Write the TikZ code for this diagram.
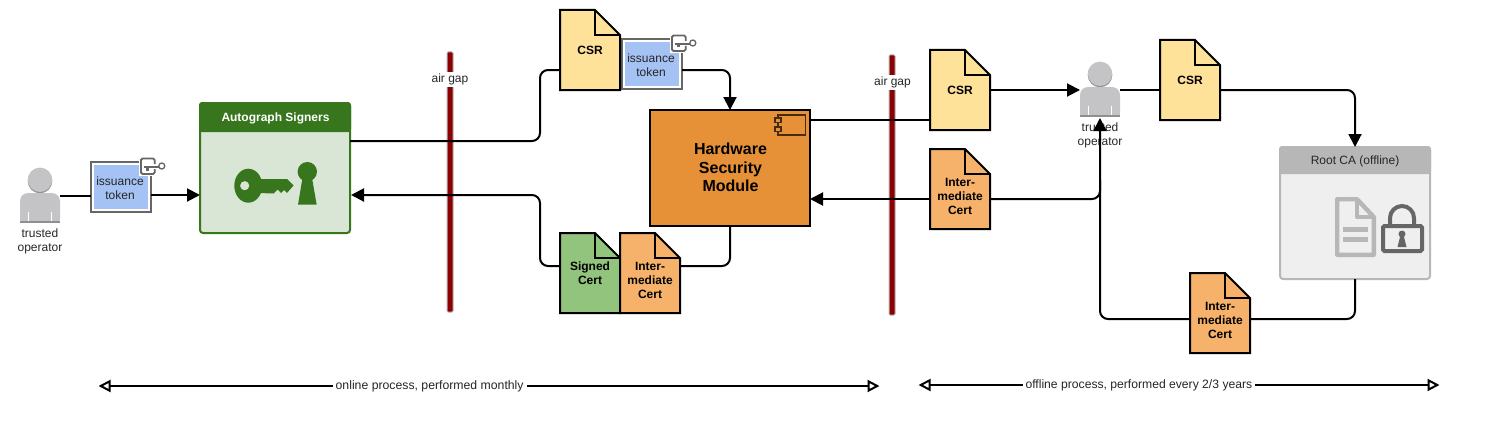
\documentclass[tikz,border=0pt]{standalone}
\usepackage{fontspec}
\setmainfont{Liberation Sans}
\usetikzlibrary{arrows.meta,calc}
\definecolor{csrc}{HTML}{FFE299}
\definecolor{intc}{HTML}{F6B26B}
\definecolor{sigc}{HTML}{93C47D}
\definecolor{hsmc}{HTML}{E69138}
\definecolor{tokc}{HTML}{A4C2F4}
\definecolor{grn}{HTML}{38761D}
\definecolor{grnl}{HTML}{D9E5D5}
\definecolor{gra}{HTML}{B7B7B7}
\definecolor{gral}{HTML}{EFEFEF}
\definecolor{grd}{HTML}{666666}
\definecolor{pers}{HTML}{C4C4C6}
\definecolor{persd}{HTML}{8F8F8F}
\definecolor{barc}{HTML}{8B0000}
\tikzset{
  conn/.style={draw=black,line width=2pt,rounded corners=8pt},
  arr/.style={conn,-{Triangle[length=13pt,width=13pt]}},
  spanline/.style={draw=black,line width=2pt,{Triangle[open,fill=white,length=12pt,width=12pt,line width=2pt]}-{Triangle[open,fill=white,length=12pt,width=12pt,line width=2pt]}},
  txt/.style={font=\fontsize{12}{14}\selectfont,align=center,inner sep=0pt,text=black!85},
  btxt/.style={font=\fontsize{12}{14}\selectfont\bfseries,align=center,inner sep=0pt},
  box/.style={rectangle,inner sep=0pt,outer sep=0pt},
  docline/.style={draw=black,line width=2pt,line join=miter},
  gapbar/.style={box,draw=gra,fill=barc,line width=1pt,minimum width=6pt,minimum height=260pt,rounded corners=1pt},
  gaplabel/.style={txt,fill=white,inner sep=1.5pt},
}
% name, cx, cy, fill, text, text y shift
\newcommand\docshape[6]{%
  \node[box,minimum width=60pt,minimum height=80pt] (#1) at (#2,#3) {};
  \draw[docline,fill=#4] (#1.north west) -- ([xshift=35pt]#1.north west) -- ([yshift=-25pt]#1.north east) -- (#1.south east) -- (#1.south west) -- cycle;
  \draw[docline] ([xshift=35pt]#1.north west) -- ([xshift=35pt,yshift=-25pt]#1.north west) -- ([yshift=-25pt]#1.north east);
  \node[btxt] (#1t) at ([yshift=#6]#1.center) {#5};
}
% name, cx, cy of token
\newcommand\tokenshape[3]{%
  \node[box,minimum width=60pt,minimum height=50pt,draw=grd,line width=2pt,fill=white] (#1) at (#2,#3) {};
  \node[box,minimum width=54pt,minimum height=44pt,fill=tokc] (#1i) at (#2,#3) {};
  \node[txt] (#1t) at ([xshift=-1pt,yshift=-1pt]#1.center) {issuance\\token};
  \fill[white] ([xshift=-12pt,yshift=6pt]#1.north east) rectangle ([xshift=5.5pt,yshift=-14pt]#1.north east);
  \draw[grd,line width=1.8pt,rounded corners=1.5pt] ([xshift=3.7pt,yshift=-2pt]#1.north east) -- ([xshift=3.7pt,yshift=3.5pt]#1.north east) -- ([xshift=-10pt,yshift=3.5pt]#1.north east) -- ([xshift=-10pt,yshift=-12pt]#1.north east) -- ([xshift=3.7pt,yshift=-12pt]#1.north east) -- ([xshift=3.7pt,yshift=-7pt]#1.north east);
  \draw[grd,line width=1.8pt] ([xshift=-7.5pt,yshift=-5pt]#1.north east) -- ([xshift=8pt,yshift=-5pt]#1.north east);
  \draw[grd,line width=1.3pt,fill=white] ([xshift=10.8pt,yshift=-4pt]#1.north east) circle[radius=3pt];
  \fill[grd] ([xshift=-5pt,yshift=-5pt]#1.north east) rectangle ([xshift=-2.5pt,yshift=-8.5pt]#1.north east);
}
% name, cx, head cy
\newcommand\person[3]{%
  \node[box,minimum width=40pt,minimum height=54pt] (#1) at (#2,#3+15) {};
  \fill[persd] (#2,#3) circle[radius=12.3pt];
  \fill[pers] (#2,#3-1.2) circle[radius=12.2pt];
  \fill[pers,rounded corners=8pt] (#2-20,#3+46) -- (#2-20,#3+12) -- (#2+20,#3+12) -- (#2+20,#3+46) -- cycle;
  \fill[white] (#2-21,#3+42) rectangle (#2+21,#3+47);
  \fill[persd] (#2-20,#3+40) rectangle (#2+20,#3+42);
  \fill[white] (#2-11.8,#3+31) rectangle (#2-11,#3+40);
  \fill[white] (#2+11,#3+31) rectangle (#2+11.8,#3+40);
  \node[txt] (#1t) at (#2,#3+60.7) {trusted\\operator};
}
\begin{document}
\begin{tikzpicture}[x=1pt,y=-1pt]
\useasboundingbox (0,0) rectangle (1490,436);
% air gaps
\node[gapbar] (gap1) at (450,182) {};
\node[gaplabel] (gap1t) at (450,79.5) {air gap};
\node[gapbar] (gap2) at (892,185) {};
\node[gaplabel] (gap2t) at (892.5,82.5) {air gap};
% persons
\person{op1}{40}{181}
\person{op2}{1100}{75}
% Autograph
\node[box,minimum width=150pt,minimum height=130pt,draw=grn,line width=2pt,fill=grnl,rounded corners=3pt] (sign) at (275,168) {};
\fill[grn,rounded corners=3pt] (199,102) -- (351,102) -- (351,132) -- (199,132) -- cycle;
\fill[grn] (199,120) rectangle (351,132);
\node[btxt,text=white] (signt) at (275.5,118.7) {Autograph Signers};
\fill[grn,even odd rule] (248.3,185.7) ellipse[x radius=14pt,y radius=17pt] (244.7,185.7) circle[radius=4.7pt];
\fill[grn] (258,179) -- (287,179) -- (293.5,185.5) -- (287,193) -- (284,190) -- (281,193) -- (277.5,189.5) -- (273.5,193.5) -- (258,193) -- cycle;
\fill[grn] (307.3,171.7) circle[radius=9.7pt];
\fill[grn] (302.5,178) -- (312,178) -- (316.7,204.7) -- (298,204.7) -- cycle;
% Root CA
\node[box,minimum width=150pt,minimum height=132pt,draw=gra,line width=2pt,fill=gral,rounded corners=3pt] (root) at (1355,213) {};
\fill[gra,rounded corners=3pt] (1279,146) -- (1431,146) -- (1431,174) -- (1279,174) -- cycle;
\fill[gra] (1279,160) rectangle (1431,174);
\node[txt] (roott) at (1355,161.7) {Root CA (offline)};
\draw[gra,line width=4.4pt,line join=round,fill=gral] (1337.2,199.2) -- (1357,199.2) -- (1373.8,217) -- (1373.8,254.8) -- (1337.2,254.8) -- cycle;
\draw[gra,line width=4.4pt,line join=round] (1357,199.2) -- (1357,217) -- (1373.8,217);
\fill[gra] (1343,227) rectangle (1368,232);
\fill[gra] (1343,237) rectangle (1368,242);
\draw[grd,line width=4pt] (1390,226) -- (1390,218) arc[start angle=180,end angle=0,radius=12pt] -- (1414,226);
\draw[grd,line width=4pt,fill=gral,rounded corners=1.5pt] (1383,226) rectangle (1422,251);
\fill[grd] (1402,234) circle[radius=3.5pt];
\fill[grd] (1400.5,235) -- (1403.5,235) -- (1406.5,247) -- (1397.5,247) -- cycle;
% HSM
\node[box,minimum width=160pt,minimum height=116pt,draw=black,line width=2pt,fill=hsmc] (hsm) at (730,168) {};
\node[btxt,font=\fontsize{16}{18.5}\selectfont\bfseries] (hsmt) at (730.5,167.5) {Hardware\\Security\\Module};
\draw[black!70!hsmc,line width=1.2pt] (778,115) rectangle (805.5,135);
\draw[black!70!hsmc,line width=1.2pt,fill=hsmc] (775,118) rectangle (781,122.5);
\draw[black!70!hsmc,line width=1.2pt,fill=hsmc] (775,127) rectangle (781,131.5);
% tokens and documents
\tokenshape{tok1}{121}{187}
\tokenshape{tok2}{652}{64}
\docshape{csr1}{590}{50}{csrc}{CSR}{0pt}
\docshape{csr2}{960}{90}{csrc}{CSR}{0pt}
\docshape{csr3}{1190}{80}{csrc}{CSR}{0pt}
\docshape{sig}{590}{273}{sigc}{Signed\\Cert}{0pt}
\docshape{int1}{650}{273}{intc}{Inter-\\mediate\\Cert}{-7pt}
\docshape{int2}{960}{189}{intc}{Inter-\\mediate\\Cert}{-7pt}
\docshape{int3}{1220}{313}{intc}{Inter-\\mediate\\Cert}{-7pt}
% connectors
\draw[conn] (op1.east) -- ([yshift=-9pt]tok1.west);
\draw[arr] ([yshift=-8pt]tok1.east) -- ([yshift=-27pt]sign.west);
\draw[conn] ([yshift=27pt]sign.east) -- (540,141) -- (540,70) -- ([yshift=-20pt]csr1.west);
\draw[arr] ([yshift=-6pt]tok2.east) -- (730,70) -- (hsm.north);
\draw[conn] ([yshift=48pt]hsm.east) -- ([yshift=-30pt]csr2.west);
\draw[arr] (csr2.east) -- (op2.west);
\draw[conn] (op2.east) -- ([yshift=-10pt]csr3.west);
\draw[arr] ([yshift=-10pt]csr3.east) -- (1355,90) -- (root.north);
\draw[conn] (root.south) -- (1355,319) -- ([yshift=-6pt]int3.east);
\draw[arr] ([yshift=-6pt]int3.west) -- (1100,319) -- ([yshift=-1pt]op2.south);
\draw[conn] ([yshift=-10pt]int2.east) -- (1100,199) -- (1100,180);
\draw[arr] ([yshift=-10pt]int2.west) -- ([yshift=-31pt]hsm.east);
\draw[conn] (hsm.south) -- (730,266) -- ([yshift=7pt]int1.east);
\draw[arr] ([yshift=7pt]sig.west) -- (540,266) -- (540,195) -- ([xshift=1pt,yshift=-27pt]sign.east);
% spans
\coordinate (s1a) at (98.5,386);
\coordinate (s1b) at (879.5,386);
\coordinate (s2a) at (918.5,385);
\coordinate (s2b) at (1439.5,385);
\draw[spanline] (s1a) -- node[pos=.424,txt,fill=white,inner sep=3pt,font=\fontsize{12.25}{14}\selectfont] (s1t) {online process, performed monthly} (s1b);
\draw[spanline] (s2a) -- node[pos=.423,txt,fill=white,inner sep=3pt,font=\fontsize{12.15}{14}\selectfont] (s2t) {offline process, performed every 2/3 years} (s2b);
\end{tikzpicture}
\end{document}
